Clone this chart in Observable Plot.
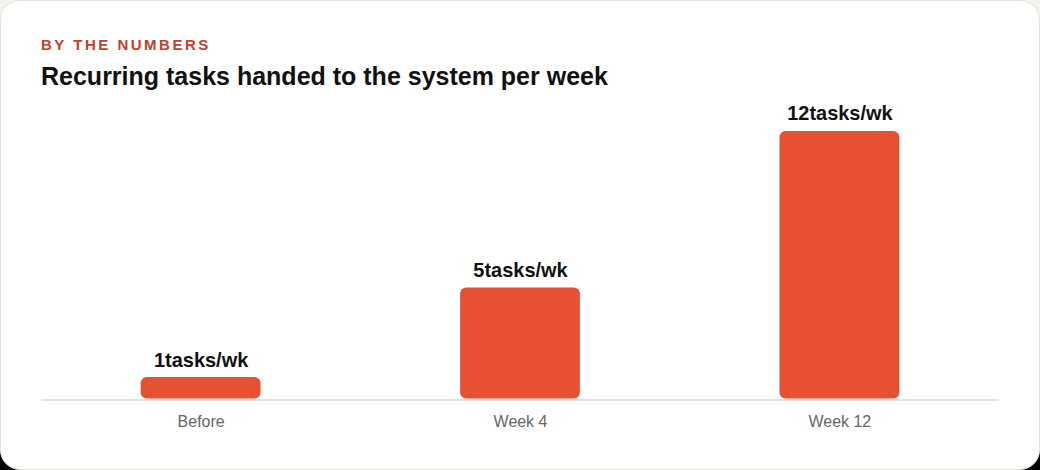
<!DOCTYPE html>
<html>
<head>
<meta charset="utf-8">
<script src="https://cdn.jsdelivr.net/npm/d3@7"></script>
<script src="https://cdn.jsdelivr.net/npm/@observablehq/plot@0.6"></script>
<style>
  html, body { margin: 0; padding: 0; }
  body { width: 1040px; height: 470px; background: linear-gradient(#f3f1ec 50%, #000 50%); font-family: "Liberation Sans", Arial, Helvetica, sans-serif; }
  .card { position: relative; box-sizing: border-box; width: 1040px; height: 470px; background: #fff; border: 1px solid #e4e1db; border-radius: 20px; overflow: hidden; }
  .eyebrow { position: absolute; left: 40px; top: 35px; margin: 0; font-size: 15px; font-weight: 700; letter-spacing: 2.5px; color: #c2412b; line-height: 18px; }
  .title { position: absolute; left: 40px; top: 61px; margin: 0; font-size: 25px; font-weight: 700; color: #111; line-height: 28px; }
  #chart { position: absolute; left: 0; top: 100px; }
  #chart svg { display: block; }
</style>
</head>
<body>
<div class="card">
  <div class="eyebrow">BY THE NUMBERS</div>
  <div class="title">Recurring tasks handed to the system per week</div>
  <div id="chart"></div>
</div>
<script>
const categories = ["Before", "Week 4", "Week 12"];
const values = [1, 5, 12];
const unit = "tasks/wk";

const data = categories.map((c, i) => ({category: c, value: values[i]}));

const chart = Plot.plot({
  width: 1040,
  height: 370,
  marginLeft: 40,
  marginRight: 40,
  marginTop: 30,
  marginBottom: 71,
  style: {fontFamily: "'Liberation Sans', Arial, Helvetica, sans-serif", background: "transparent"},
  x: {domain: categories, padding: 0, label: null, tickSize: 0, tickPadding: 17},
  y: {domain: [0, 12], axis: null},
  marks: [
    Plot.barY(data, {x: "category", y: "value", fill: "#e85033", insetLeft: 100, insetRight: 100, insetBottom: 1, rx: 6}),
    Plot.ruleY([0], {stroke: "#dcd8d3", strokeWidth: 1.5}),
    Plot.text(data, {x: "category", y: "value", text: d => `${d.value}${unit}`, dy: -11, lineAnchor: "bottom", fontSize: 20, fontWeight: "bold", fill: "#111"}),
    Plot.axisX({tickSize: 0, tickPadding: 16, fontSize: 16, color: "#666", label: null})
  ]
});
document.getElementById("chart").appendChild(chart);
</script>
</body>
</html>
